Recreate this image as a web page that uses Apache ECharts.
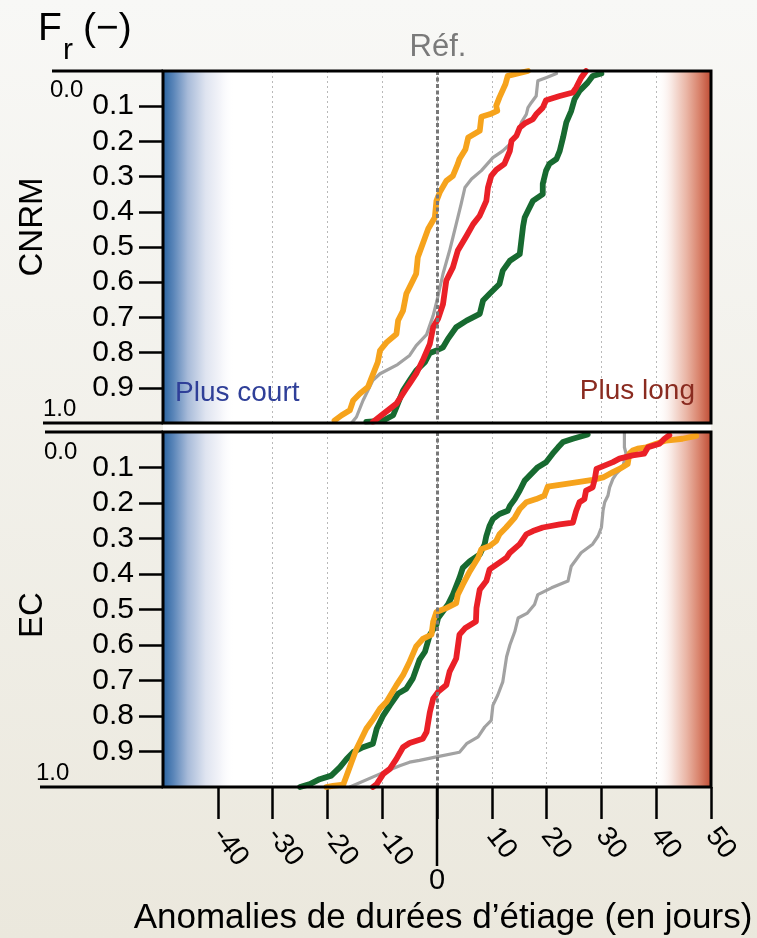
<!DOCTYPE html>
<html><head><meta charset="utf-8">
<script src="https://cdn.jsdelivr.net/npm/echarts@6/dist/echarts.min.js"></script>
<style>html,body{margin:0;padding:0;background:#f2f1ec;} #c{width:757px;height:938px;}</style>
</head><body><div id="c"></div>
<script>
// ---- axis definitions ----
const xMin = -50, xMax = 50, xStep = 10;
const xTickValues = [-40, -30, -20, -10, 0, 10, 20, 30, 40, 50];
const xLabelValues = [-40, -30, -20, -10, 10, 20, 30, 40, 50];
const yTickValues = [0.1, 0.2, 0.3, 0.4, 0.5, 0.6, 0.7, 0.8, 0.9];
const panelNames = ['CNRM', 'EC'];
const seriesNames = ['Gris', 'Vert', 'Orange', 'Rouge'];

// ---- CNRM panel: [anomalie (jours), Fr] ----
const cnrmOrange = [[16.6,0.0],[12.9,0.014],[12.5,0.037],[11.4,0.075],[10.8,0.099],[11.0,0.113],[9.6,0.123],[8.1,0.130],[7.8,0.170],[5.7,0.189],[5.2,0.222],[4.1,0.250],[3.8,0.264],[2.9,0.298],[1.7,0.312],[0.5,0.345],[-0.1,0.369],[-0.4,0.416],[-1.6,0.448],[-2.6,0.491],[-3.5,0.529],[-3.8,0.576],[-4.4,0.595],[-5.6,0.633],[-6.2,0.681],[-7.1,0.709],[-7.4,0.747],[-9.2,0.771],[-10.4,0.794],[-10.8,0.827],[-12.0,0.874],[-12.6,0.898],[-14.1,0.917],[-15.3,0.936],[-15.9,0.964],[-17.4,0.978],[-18.7,0.993]];
const cnrmGray = [[21.8,0.007],[19.9,0.019],[18.4,0.028],[18.1,0.071],[17.2,0.090],[16.6,0.104],[16.3,0.123],[15.4,0.146],[14.8,0.175],[13.3,0.208],[12.0,0.227],[10.2,0.246],[8.1,0.283],[6.3,0.307],[5.1,0.331],[4.4,0.378],[3.5,0.435],[2.9,0.473],[2.3,0.510],[1.1,0.576],[0.0,0.652],[-0.7,0.695],[-1.9,0.749],[-3.8,0.780],[-5.0,0.808],[-7.2,0.834],[-10.4,0.860],[-11.7,0.879],[-13.5,0.936],[-14.7,0.983],[-15.6,1.0]];
const cnrmRed = [[27.2,0.0],[26.3,0.019],[25.4,0.047],[24.8,0.061],[22.4,0.071],[19.9,0.083],[19.3,0.104],[18.1,0.123],[17.5,0.137],[16.0,0.149],[15.1,0.161],[14.5,0.184],[13.6,0.198],[13.3,0.227],[12.3,0.264],[10.8,0.281],[9.9,0.298],[9.3,0.331],[9.0,0.369],[7.8,0.411],[6.6,0.435],[5.4,0.468],[3.8,0.510],[2.9,0.558],[1.7,0.595],[1.1,0.662],[0.2,0.704],[-0.7,0.728],[-1.3,0.775],[-2.6,0.822],[-3.8,0.860],[-5.0,0.888],[-5.6,0.902],[-7.4,0.945],[-9.8,0.974],[-11.7,0.997]];
const cnrmGreen = [[30.0,0.007],[28.4,0.014],[27.5,0.033],[26.0,0.057],[25.1,0.080],[24.5,0.113],[23.6,0.146],[23.0,0.189],[22.4,0.227],[21.8,0.250],[20.5,0.264],[19.9,0.283],[19.3,0.321],[19.3,0.350],[17.5,0.369],[16.6,0.397],[16.0,0.416],[15.7,0.442],[15.1,0.520],[13.3,0.539],[12.0,0.567],[11.4,0.605],[9.6,0.633],[8.4,0.652],[7.8,0.690],[5.4,0.709],[3.5,0.728],[2.0,0.761],[1.1,0.785],[-0.1,0.794],[-1.3,0.801],[-2.2,0.827],[-3.8,0.851],[-5.0,0.879],[-6.2,0.908],[-7.4,0.955],[-8.0,0.978],[-9.8,0.993],[-12.9,0.997]];

// ---- EC panel ----
const ecOrange = [[47.3,0.011],[44.8,0.019],[41.8,0.024],[40.0,0.033],[38.2,0.043],[36.6,0.047],[35.7,0.052],[35.1,0.061],[34.8,0.090],[33.3,0.104],[32.1,0.113],[30.3,0.128],[28.4,0.135],[26.6,0.139],[23.6,0.146],[20.2,0.154],[19.6,0.179],[18.1,0.189],[16.3,0.198],[15.1,0.217],[14.2,0.241],[12.6,0.269],[11.4,0.288],[10.8,0.307],[9.6,0.321],[8.1,0.330],[7.5,0.354],[6.0,0.392],[4.7,0.430],[3.8,0.458],[3.5,0.482],[1.7,0.496],[-0.1,0.507],[-0.7,0.534],[-1.0,0.571],[-2.6,0.583],[-3.8,0.604],[-5.0,0.647],[-6.2,0.685],[-7.4,0.713],[-9.2,0.760],[-10.4,0.779],[-11.6,0.808],[-12.9,0.836],[-14.1,0.874],[-14.7,0.893],[-15.6,0.930],[-16.5,0.968],[-17.1,0.993],[-19.0,0.997],[-20.2,1.0]];
const ecGray = [[34.2,0.0],[34.2,0.043],[34.5,0.061],[33.9,0.099],[32.7,0.118],[32.1,0.132],[31.5,0.156],[31.2,0.179],[30.6,0.198],[30.3,0.222],[30.0,0.269],[29.4,0.293],[28.4,0.316],[26.3,0.340],[25.4,0.359],[24.5,0.378],[23.9,0.420],[20.9,0.439],[18.4,0.458],[17.8,0.486],[16.5,0.510],[14.8,0.524],[14.2,0.562],[13.3,0.600],[12.7,0.633],[12.0,0.704],[11.1,0.741],[10.2,0.770],[9.9,0.812],[8.7,0.831],[7.5,0.859],[5.4,0.878],[4.1,0.902],[-0.1,0.915],[-3.2,0.925],[-5.0,0.930],[-6.8,0.940],[-10.4,0.963],[-15.9,1.0]];
const ecRed = [[42.4,0.009],[41.5,0.019],[40.6,0.033],[38.5,0.043],[37.8,0.061],[35.7,0.066],[33.3,0.075],[32.1,0.085],[29.1,0.104],[28.8,0.132],[28.4,0.156],[27.2,0.165],[26.9,0.189],[26.0,0.198],[25.4,0.222],[24.8,0.255],[22.4,0.260],[19.3,0.269],[17.5,0.279],[16.3,0.288],[15.1,0.316],[13.3,0.340],[12.7,0.354],[11.4,0.368],[9.6,0.387],[9.0,0.420],[7.8,0.444],[7.2,0.496],[7.1,0.534],[5.1,0.553],[4.1,0.571],[3.5,0.638],[2.3,0.675],[1.7,0.713],[0.2,0.732],[-0.7,0.751],[-1.3,0.789],[-1.9,0.845],[-2.6,0.864],[-5.0,0.876],[-6.2,0.888],[-7.4,0.921],[-8.6,0.949],[-9.8,0.963],[-11.0,0.992],[-11.7,1.0]];
const ecGreen = [[27.5,0.007],[24.8,0.019],[23.0,0.028],[22.1,0.043],[21.1,0.061],[19.9,0.085],[18.4,0.099],[17.2,0.118],[16.0,0.137],[15.1,0.165],[14.2,0.189],[13.3,0.208],[12.9,0.222],[11.4,0.231],[10.2,0.245],[9.6,0.264],[9.0,0.293],[8.7,0.316],[7.8,0.345],[6.0,0.364],[4.7,0.383],[4.1,0.411],[2.9,0.458],[2.0,0.486],[1.1,0.505],[0.2,0.524],[-0.1,0.543],[-1.3,0.571],[-2.2,0.619],[-3.2,0.642],[-4.4,0.694],[-5.6,0.723],[-7.1,0.737],[-8.6,0.770],[-9.8,0.798],[-11.0,0.836],[-11.7,0.878],[-13.5,0.888],[-15.3,0.902],[-16.5,0.921],[-17.7,0.944],[-19.3,0.968],[-21.4,0.978],[-23.2,0.992],[-25.0,1.0]];

// ---- styling / layout ----
const FONT = 'Liberation Sans, Arial, Helvetica, sans-serif';
const L = 163, W = 548;
const panels = [{top: 71, height: 352}, {top: 432, height: 355}];
const colors = {Gris: '#a2a2a2', Vert: '#176a30', Orange: '#f6a31c', Rouge: '#ea2027'};
const widths = {Gris: 3.2, Vert: 5.8, Orange: 5.8, Rouge: 5.8};
const panelData = [
  {Gris: cnrmGray, Vert: cnrmGreen, Orange: cnrmOrange, Rouge: cnrmRed},
  {Gris: ecGray, Vert: ecGreen, Orange: ecOrange, Rouge: ecRed}
];

const blueGrad = {type: 'linear', x: 0, y: 0, x2: 1, y2: 0, colorStops: [
  {offset: 0, color: '#2a64a1'}, {offset: 0.15, color: '#5b86b9'}, {offset: 0.35, color: '#a8bbd9'},
  {offset: 0.6, color: '#dfe4f0'}, {offset: 0.8, color: '#f3f4f9'}, {offset: 1, color: 'rgba(255,255,255,0)'}]};
const redGrad = {type: 'linear', x: 0, y: 0, x2: 1, y2: 0, colorStops: [
  {offset: 0, color: 'rgba(255,255,255,0)'}, {offset: 0.3, color: '#f7e4de'}, {offset: 0.55, color: '#eab6a6'},
  {offset: 0.78, color: '#d9846d'}, {offset: 1, color: '#bf4c34'}]};

const grids = panels.map(p => ({left: L, top: p.top, width: W, height: p.height, show: true,
  backgroundColor: '#ffffff', borderWidth: 0, containLabel: false}));

const xAxes = panels.map((p, i) => ({
  type: 'value', gridIndex: i, min: xMin, max: xMax, interval: xStep, position: 'bottom',
  axisLine: {show: false, onZero: false},
  axisTick: i === 1 ? {show: true, customValues: xTickValues, length: 32, inside: false,
    lineStyle: {color: '#000', width: 2.5}} : {show: false},
  axisLabel: i === 1 ? {show: true, customValues: xLabelValues, rotate: -52, margin: 44,
    fontSize: 28, fontFamily: FONT, color: '#000',
    formatter: v => (v === 0 || v === -50) ? '' : String(v)} : {show: false},
  splitLine: {show: true, lineStyle: {color: '#b9b9b9', width: 1, type: [2, 3]}}
}));

const yAxes = panels.map((p, i) => ({
  type: 'value', gridIndex: i, min: 0, max: 1, interval: 0.1, inverse: true, position: 'left',
  axisLine: {show: false, onZero: false},
  axisTick: {show: true, customValues: yTickValues, length: 24, lineStyle: {color: '#000', width: 2.5}},
  axisLabel: {show: true, customValues: yTickValues, margin: 29, fontSize: 30, fontFamily: FONT, color: '#000',
    formatter: v => (v < 0.05 || v > 0.95) ? '' : v.toFixed(1)},
  splitLine: {show: false}
}));

const series = [];
panels.forEach((p, i) => {
  series.push({
    type: 'line', xAxisIndex: i, yAxisIndex: i, data: [], z: 1, silent: true,
    markArea: {silent: true, data: [
      [{xAxis: -50, itemStyle: {color: blueGrad}}, {xAxis: -37}],
      [{xAxis: 40, itemStyle: {color: redGrad}}, {xAxis: 50}]
    ]},
    markLine: {silent: true, symbol: 'none', label: {show: false},
      lineStyle: {color: '#787878', width: 3, type: [4, 2.5]}, data: [{xAxis: 0}]}
  });
  seriesNames.forEach(n => {
    series.push({
      type: 'line', name: panelNames[i] + ' ' + n, xAxisIndex: i, yAxisIndex: i,
      data: panelData[i][n], showSymbol: false, symbol: 'none', silent: true, z: 3,
      lineStyle: {color: colors[n], width: widths[n], join: 'round', cap: 'round'}
    });
  });
});

const chart = echarts.init(document.getElementById('c'), null, {renderer: 'canvas'});
chart.setOption({
  animation: false,
  backgroundColor: {type: 'linear', x: 0, y: 0, x2: 0, y2: 1, colorStops: [
    {offset: 0, color: '#f8f8f6'}, {offset: 1, color: '#ebe8dd'}]},
  grid: grids, xAxis: xAxes, yAxis: yAxes, series: series
});

// ---- decorations ----
const x0 = chart.convertToPixel({xAxisIndex: 1}, 0);
const g = [];
function txt(t, x, y, size, opts) {
  g.push(Object.assign({type: 'text', x: x, y: y, z: 50, silent: true,
    style: Object.assign({text: t, fontSize: size, fontFamily: FONT, fill: '#000',
      align: 'left', verticalAlign: 'middle'}, opts && opts.style || {})},
    opts && opts.el || {}));
}
function line(x1, y1, x2, y2, w) {
  g.push({type: 'line', z: 60, silent: true, shape: {x1, y1, x2, y2}, style: {stroke: '#000', lineWidth: w}});
}
panels.forEach(p => {
  g.push({type: 'rect', z: 60, silent: true, shape: {x: L, y: p.top, width: W, height: p.height},
    style: {fill: 'none', stroke: '#000', lineWidth: 3}});
});
g.push({type: 'rect', z: 40, silent: true, shape: {x: L, y: 424.5, width: W, height: 6}, style: {fill: '#ffffff'}});
line(52, 71, L, 71, 3);
line(43, 423, L, 423, 3);
line(45, 432, L, 432, 3);
line(40, 787, L, 787, 3);
line(x0, 787, x0, 866, 2.5);

txt('F', 38, 29.5, 39);
txt('r', 63, 51, 30);
txt('(−)', 83, 29.5, 39);
txt('Réf.', 438, 47, 31, {style: {align: 'center', fill: '#7a7a7a'}});
txt('CNRM', 33, 227, 33, {style: {align: 'center'}, el: {rotation: Math.PI / 2}});
txt('EC', 33, 615, 33, {style: {align: 'center'}, el: {rotation: Math.PI / 2}});
txt('Plus court', 175, 393.5, 28, {style: {fill: '#2f3f98'}});
txt('Plus long', 695, 391, 28, {style: {align: 'right', fill: '#8a2b20'}});
txt('0.0', 50, 90.5, 24);
txt('1.0', 43, 409, 24);
txt('0.0', 44, 452.5, 24);
txt('1.0', 36, 773.5, 24);
txt('0', x0, 881, 29, {style: {align: 'center'}});
txt('Anomalies de durées d’étiage (en jours)', 443, 918.5, 35, {style: {align: 'center'}});

chart.setOption({graphic: g});
</script></body></html>
